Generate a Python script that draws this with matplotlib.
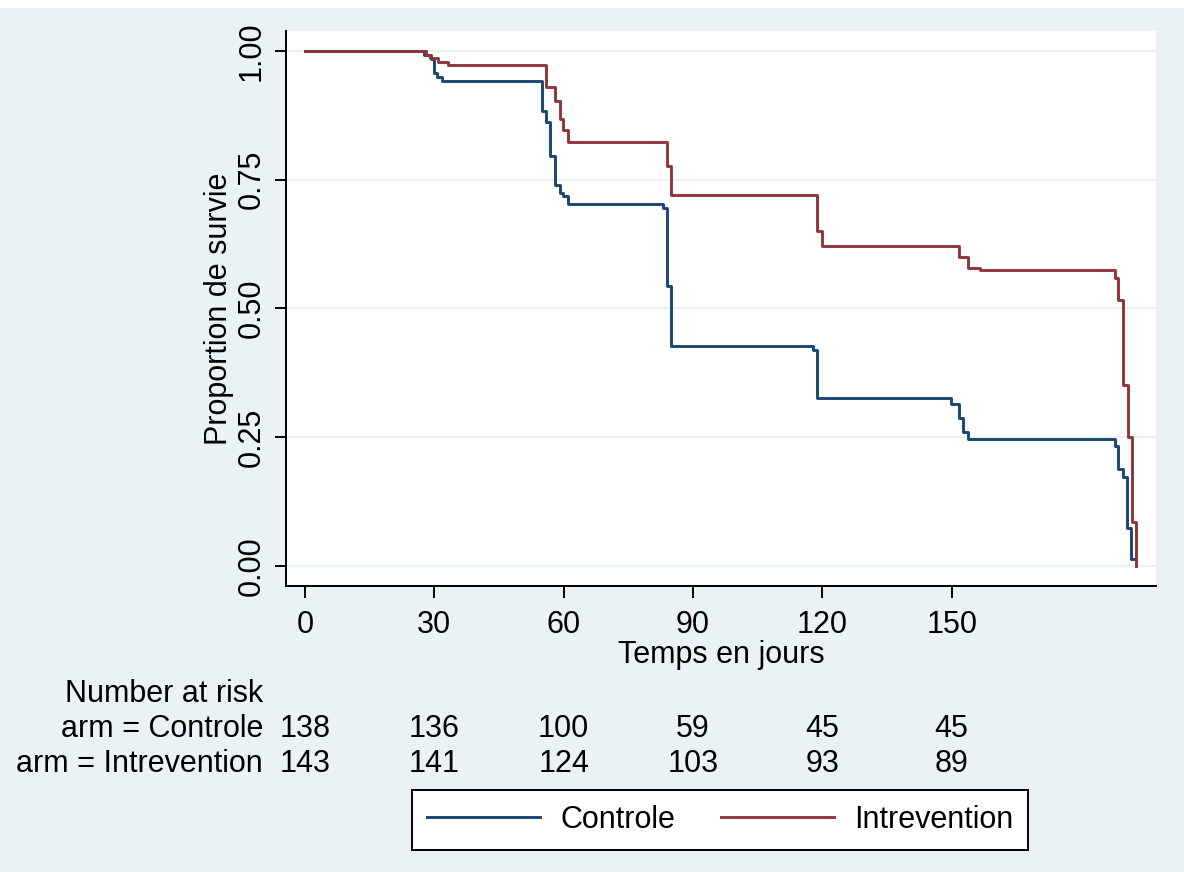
import matplotlib
matplotlib.use("Agg")
import matplotlib.pyplot as plt
import matplotlib.transforms as mtransforms
from matplotlib.patches import Rectangle

plt.rcParams['font.family'] = ['Liberation Sans', 'DejaVu Sans']

# Kaplan-Meier estimates (days, survival)
controle_t = [0, 27.5, 29.2, 30.0, 30.6, 31.9, 54.9, 55.8, 56.8, 58.0, 59.2, 59.9, 60.9,
              83.0, 83.9, 84.8, 117.9, 118.7, 149.8, 151.8, 152.7, 153.9,
              187.8, 188.7, 189.7, 190.6, 191.6, 192.3]
controle_s = [1.0, 0.993, 0.985, 0.957, 0.950, 0.942, 0.884, 0.863, 0.797, 0.740, 0.724, 0.718, 0.703,
              0.695, 0.543, 0.428, 0.420, 0.326, 0.314, 0.288, 0.260, 0.246,
              0.233, 0.188, 0.173, 0.073, 0.013, 0.013]

interv_t = [0, 28.1, 29.0, 30.9, 33.2, 55.9, 58.0, 59.2, 59.9, 60.9,
            83.9, 84.8, 118.7, 119.9, 151.8, 153.9, 156.6,
            187.8, 188.7, 189.7, 190.8, 191.8, 192.8]
interv_s = [1.0, 0.992, 0.986, 0.979, 0.973, 0.930, 0.904, 0.868, 0.847, 0.824,
            0.776, 0.721, 0.650, 0.622, 0.601, 0.579, 0.574,
            0.559, 0.517, 0.351, 0.251, 0.085, 0.0]

x_ticks = [0, 30, 60, 90, 120, 150]
y_ticks = [0.0, 0.25, 0.5, 0.75, 1.0]
risk_controle = [138, 136, 100, 59, 45, 45]
risk_interv = [143, 141, 124, 103, 93, 89]

bg = '#EAF2F3'
blue = '#1a476f'
red = '#90353b'
fs = 22

fig = plt.figure(figsize=(11.84, 8.72), dpi=100, facecolor=bg)
fig.patches.append(Rectangle((0, 1 - 8 / 872), 1, 8 / 872, transform=fig.transFigure,
                             facecolor='white', edgecolor='none', zorder=-5))
ax = fig.add_axes([286 / 1184, 1 - 586 / 872, 870 / 1184, 555 / 872])
ax.set_facecolor('white')

ax.step(controle_t, controle_s, where='post', color=blue, lw=2.1, label='Controle')
ax.step(interv_t, interv_s, where='post', color=red, lw=2.1, label='Intrevention')

ax.set_xlim(-4.4, 197.4)
ax.set_ylim(-0.039, 1.039)
ax.set_xticks(x_ticks)
ax.set_yticks(y_ticks)
ax.set_yticklabels([f"{v:.2f}" for v in y_ticks], rotation=90, va='center')
ax.yaxis.grid(True, color=bg, lw=1.6)
ax.set_axisbelow(True)

for side in ['top', 'right']:
    ax.spines[side].set_visible(False)
for side in ['left', 'bottom']:
    ax.spines[side].set_linewidth(1.4)
ax.tick_params(axis='both', labelsize=fs, width=1.4, direction='out')
ax.tick_params(axis='y', length=8, pad=6)
ax.tick_params(axis='x', length=8.6, pad=8.5)

ax.set_ylabel('Proportion de survie', fontsize=fs, labelpad=2)
ax.set_xlabel('Temps en jours', fontsize=fs, labelpad=0)

# number at risk table
trans = mtransforms.blended_transform_factory(ax.transData, fig.transFigure)
rows_y = [1 - 729 / 872, 1 - 764 / 872]
lab_x = 263 / 1184
fig.text(lab_x, 1 - 694 / 872, 'Number at risk', ha='right', va='center', fontsize=fs)
fig.text(lab_x, rows_y[0], 'arm = Controle', ha='right', va='center', fontsize=fs)
fig.text(lab_x, rows_y[1], 'arm = Intrevention', ha='right', va='center', fontsize=fs)
for t, a, b in zip(x_ticks, risk_controle, risk_interv):
    ax.text(t, rows_y[0], str(a), transform=trans, ha='center', va='center', fontsize=fs)
    ax.text(t, rows_y[1], str(b), transform=trans, ha='center', va='center', fontsize=fs)

leg = fig.legend(loc='center', bbox_to_anchor=(720 / 1184, 1 - 820 / 872), ncol=2,
                 fontsize=fs, frameon=True, fancybox=False, framealpha=1,
                 edgecolor='black', handlelength=3.7, handletextpad=0.65,
                 columnspacing=1.5, borderpad=0.48)
leg.get_frame().set_linewidth(1.4)

fig.savefig('out.png', dpi=100, facecolor=bg)
